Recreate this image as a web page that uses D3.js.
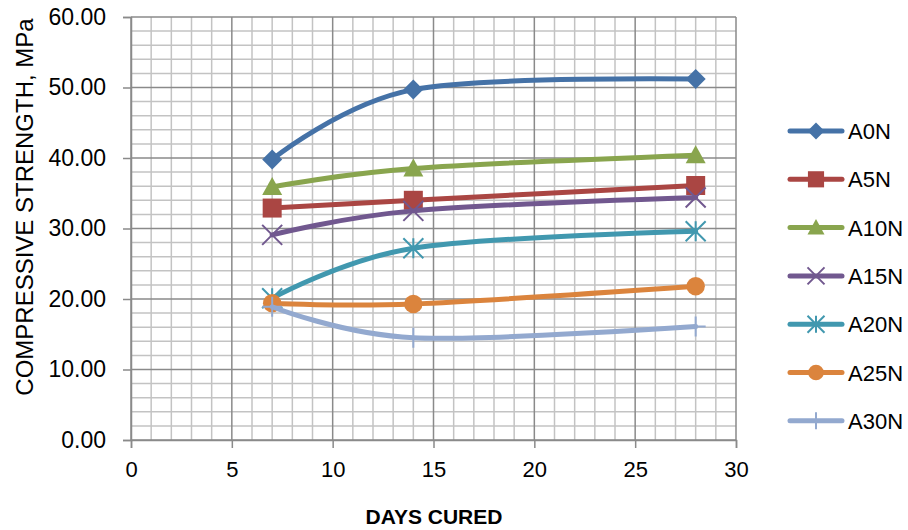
<!DOCTYPE html>
<html><head><meta charset="utf-8">
<script src="https://cdn.jsdelivr.net/npm/d3@7"></script>
<style>body{margin:0;background:#fff}svg{display:block}text{font-family:"Liberation Sans",Arial,sans-serif;fill:#000}</style>
</head><body><svg id="c" width="908" height="530"></svg>
<script>
const days = [7, 14, 28];
const seriesNames = ["A0N","A5N","A10N","A15N","A20N","A25N","A30N"];
const A0N  = [39.8, 49.7, 51.2];
const A5N  = [32.9, 34.0, 36.1];
const A10N = [35.9, 38.5, 40.4];
const A15N = [29.1, 32.5, 34.4];
const A20N = [20.1, 27.2, 29.6];
const A25N = [19.4, 19.3, 21.8];
const A30N = [18.9, 14.5, 16.1];
const seriesValues = [A0N, A5N, A10N, A15N, A20N, A25N, A30N];
const colors = ["#4572A7","#AA4643","#89A54E","#71588F","#4198AF","#DB843D","#93A9CF"];
const markers = ["diamond","square","triangle","x","asterisk","circle","plus"];
const xTicks = [0,5,10,15,20,25,30];
const yTicks = [0,10,20,30,40,50,60];

const svg = d3.select("#c");
const x = d3.scaleLinear().domain([0,30]).range([131,736]);
const y = d3.scaleLinear().domain([0,60]).range([440,17]);

const g = svg.append("g");
g.selectAll(".mx").data(d3.range(0,31,1).filter(v=>v%5)).join("line")
  .attr("x1",d=>x(d)).attr("x2",d=>x(d)).attr("y1",y(0)).attr("y2",y(60))
  .attr("stroke","#c3c3c3").attr("stroke-width",1.5);
g.selectAll(".my").data(d3.range(0,61,2).filter(v=>v%10)).join("line")
  .attr("y1",d=>y(d)).attr("y2",d=>y(d)).attr("x1",x(0)).attr("x2",x(30))
  .attr("stroke","#c3c3c3").attr("stroke-width",1.5);
g.selectAll(".Mx").data(xTicks).join("line")
  .attr("x1",d=>x(d)).attr("x2",d=>x(d)).attr("y1",y(0)).attr("y2",y(60))
  .attr("stroke","#8a8a8a").attr("stroke-width",1.5);
g.selectAll(".My").data(yTicks).join("line")
  .attr("y1",d=>y(d)).attr("y2",d=>y(d)).attr("x1",x(0)).attr("x2",x(30))
  .attr("stroke","#8a8a8a").attr("stroke-width",1.5);

const xa = svg.append("g").attr("transform",`translate(0,${y(0)})`)
  .call(d3.axisBottom(x).tickValues(xTicks).tickSize(8).tickPadding(13).tickFormat(d3.format("d")));
const ya = svg.append("g").attr("transform",`translate(${x(0)},0)`)
  .call(d3.axisLeft(y).tickValues(yTicks).tickSize(8).tickPadding(17).tickFormat(d3.format(".2f")));
[xa,ya].forEach(a=>{
  a.select(".domain").attr("stroke","#8a8a8a").attr("stroke-width",1.5);
  a.selectAll(".tick line").attr("stroke","#8a8a8a").attr("stroke-width",1.5);
  a.selectAll("text").attr("font-family","'Liberation Sans',Arial,sans-serif").attr("fill","#000");
});
xa.selectAll("text").attr("font-size",22);
ya.selectAll("text").attr("font-size",23);

svg.append("text").attr("x",434).attr("y",524).attr("text-anchor","middle")
  .attr("font-size",21).attr("font-weight","bold").text("DAYS CURED");
svg.append("text").attr("transform","translate(33,207) rotate(-90)").attr("text-anchor","middle")
  .attr("font-size",24).text("COMPRESSIVE STRENGTH, MPa");

function drawMarker(sel, type, color, s) {
  if (type==="diamond") sel.append("path").attr("d",`M0,${-s}L${s},0L0,${s}L${-s},0Z`).attr("fill",color);
  else if (type==="square") sel.append("rect").attr("x",-s*0.95).attr("y",-s*0.95).attr("width",s*1.9).attr("height",s*1.9).attr("fill",color);
  else if (type==="triangle") sel.append("path").attr("d",`M0,${-s}L${s},${s*0.8}L${-s},${s*0.8}Z`).attr("fill",color);
  else if (type==="circle") sel.append("circle").attr("r",s*0.92).attr("fill",color);
  else if (type==="x") sel.append("path").attr("d",`M${-s},${-s}L${s},${s}M${-s},${s}L${s},${-s}`).attr("stroke",color).attr("stroke-width",2).attr("fill","none");
  else if (type==="asterisk") sel.append("path").attr("d",`M${-s},${-s}L${s},${s}M${-s},${s}L${s},${-s}M0,${-s}L0,${s}`).attr("stroke",color).attr("stroke-width",2).attr("fill","none");
  else if (type==="plus") sel.append("path").attr("d",`M${-s},0L${s},0M0,${-s}L0,${s}`).attr("stroke",color).attr("stroke-width",2).attr("fill","none");
}

const line = d3.line().x(d=>x(d[0])).y(d=>y(d[1])).curve(d3.curveCatmullRom.alpha(0));
seriesValues.forEach((vals,i)=>{
  const pts = days.map((d,j)=>[d,vals[j]]);
  svg.append("path").attr("d",line(pts)).attr("fill","none").attr("stroke",colors[i])
    .attr("stroke-width",5).attr("stroke-linecap","round");
  pts.forEach(p=>{
    const m = svg.append("g").attr("transform",`translate(${x(p[0])},${y(p[1])})`);
    drawMarker(m, markers[i], colors[i], 10);
  });
  const ly = 131 + i*48.3;
  const lg = svg.append("g");
  lg.append("line").attr("x1",790).attr("x2",842).attr("y1",ly).attr("y2",ly)
    .attr("stroke",colors[i]).attr("stroke-width",5).attr("stroke-linecap","round");
  const lm = lg.append("g").attr("transform",`translate(816,${ly})`);
  drawMarker(lm, markers[i], colors[i], 8.5);
  lg.append("text").attr("x",848).attr("y",ly+8).attr("font-size",22).text(seriesNames[i]);
});
</script></body></html>
